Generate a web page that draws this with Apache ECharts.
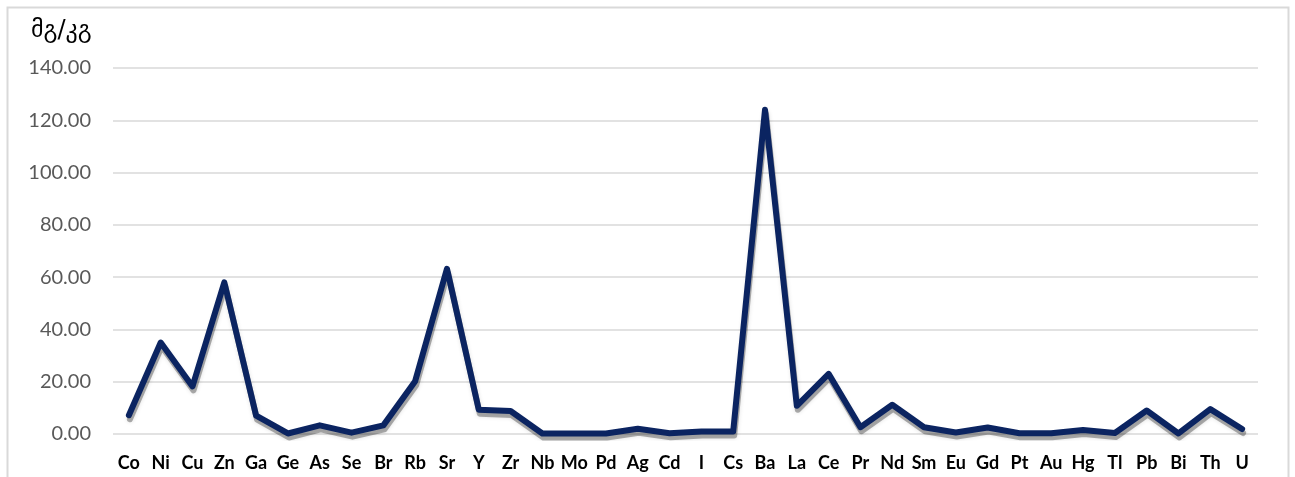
<!DOCTYPE html>
<html>
<head>
<meta charset="utf-8">
<script src="https://cdn.jsdelivr.net/npm/echarts@6/dist/echarts.min.js"></script>
<style>
html,body{margin:0;padding:0;background:#fff;}
#c{width:1295px;height:477px;}
</style>
</head>
<body>
<div id="c"></div>
<script>
var unitLabel = 'მგ/კგ';
var categories = ['Co','Ni','Cu','Zn','Ga','Ge','As','Se','Br','Rb','Sr','Y','Zr','Nb','Mo','Pd','Ag','Cd','I','Cs','Ba','La','Ce','Pr','Nd','Sm','Eu','Gd','Pt','Au','Hg','Tl','Pb','Bi','Th','U'];
var values = [7.2,35,18.2,58,7,0.2,3.3,0.5,3.3,20.2,63.2,9.3,8.8,0.2,0.2,0.2,2,0.3,1,1,124,10.8,23,2.6,11.2,2.6,0.6,2.5,0.3,0.3,1.5,0.4,9,0.2,9.5,1.9];

var chart = echarts.init(document.getElementById('c'), null, {renderer:'canvas'});
chart.setOption({
  animation:false,
  backgroundColor:'#ffffff',
  graphic:[
    {type:'rect', left:5, top:5, shape:{width:1281, height:500}, style:{fill:'none', stroke:'#d9d9d9', lineWidth:2}, silent:true}
  ],
  title:{
    text:unitLabel, left:26, top:14,
    textStyle:{fontFamily:'DejaVu Sans', fontSize:24, fontWeight:'normal', color:'#000000'}
  },
  grid:[
    {left:113, right:37, top:68, bottom:43, containLabel:false},
    {left:114, right:36, top:72, bottom:39, containLabel:false}
  ],
  xAxis:[{
    type:'category', data:categories, boundaryGap:true, gridIndex:0,
    axisLine:{show:false}, axisTick:{show:false},
    axisLabel:{interval:0, margin:20, fontFamily:'Lato', fontWeight:'bold', fontSize:18, color:'#000000'}
  },{
    type:'category', data:categories, boundaryGap:true, gridIndex:1, show:false
  }],
  yAxis:[{
    type:'value', min:0, max:140, interval:20, gridIndex:0,
    axisLine:{show:false}, axisTick:{show:false},
    splitLine:{lineStyle:{color:'#d9d9d9', width:1.5}},
    axisLabel:{margin:22, fontFamily:'Lato', fontSize:20, color:'#595959',
      formatter:function(v){return v.toFixed(2);}}
  },{
    type:'value', min:0, max:140, interval:20, gridIndex:1, show:false, splitLine:{show:false}
  }],
  series:[{
    type:'line', data:values, symbol:'none', xAxisIndex:1, yAxisIndex:1, z:1, silent:true,
    lineStyle:{color:'rgba(0,0,0,0.3)', width:6, join:'round', cap:'round',
      shadowColor:'rgba(0,0,0,0.4)', shadowBlur:4}
  },{
    type:'line', data:values, symbol:'none', smooth:false, z:3,
    lineStyle:{color:'#0b2461', width:6, join:'round', cap:'round'}
  }]
});
</script>
</body>
</html>
